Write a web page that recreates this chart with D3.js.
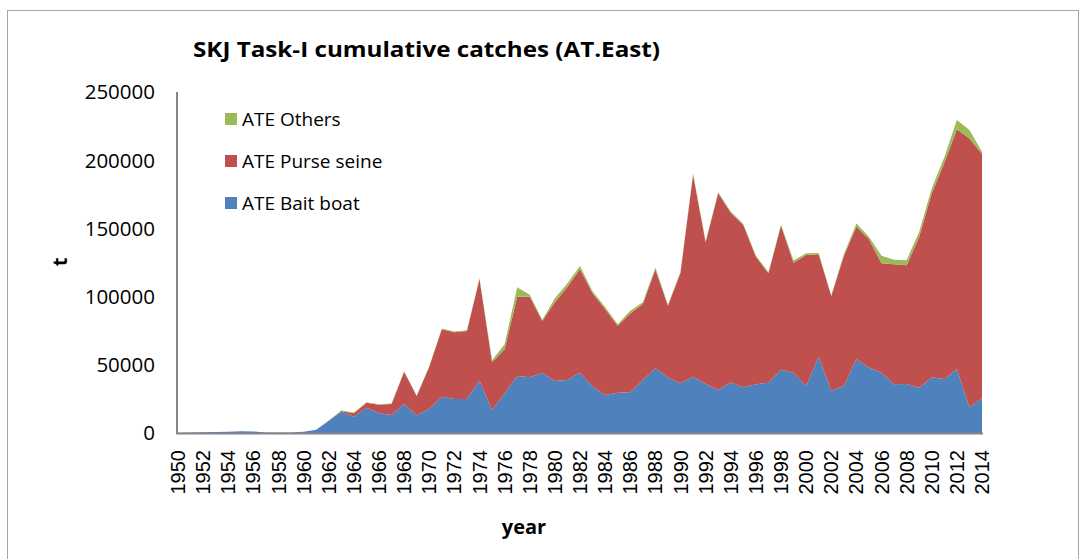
<!DOCTYPE html>
<html>
<head>
<meta charset="utf-8">
<script src="https://cdn.jsdelivr.net/npm/d3@7"></script>
<style>
  body { margin: 0; background: #fff; }
  text { fill: #000; }
</style>
</head>
<body>
<script>
var width = 1083;
var height = 559;

// years on the x axis
var years = d3.range(1950, 2015);

// ATE Bait boat (t)
var baitBoat = [
  200, 300, 600, 800, 1000, 1300, 1100, 400, 300, 400,
  900, 2300, 9000, 15600, 11900, 18500, 14400, 13200, 21300, 13000,
  17600, 26600, 24900, 24900, 38300, 16600, 29100, 41800, 40800, 44200,
  38100, 38900, 44200, 34000, 27900, 29600, 29800, 38900, 47400, 40600,
  36400, 41300, 35900, 31500, 37100, 33500, 35700, 36900, 46400, 44200,
  34500, 55900, 31000, 34500, 54000, 48100, 44200, 35700, 35900, 33200,
  40800, 39600, 46700, 18800, 25400
];

// ATE Purse seine (t)
var purseSeine = [
  0, 0, 0, 0, 0, 0, 0, 0, 0, 0,
  0, 0, 0, 600, 2500, 3700, 6300, 8100, 23600, 14100,
  31000, 49400, 48900, 49900, 74600, 35200, 32500, 58100, 59100, 37900,
  57700, 68400, 75800, 68400, 63000, 49100, 57900, 55700, 72400, 52700,
  81100, 147800, 103900, 144200, 124400, 119000, 93600, 80200, 105600, 80600,
  96000, 75100, 69400, 95300, 97300, 93900, 80200, 88000, 87000, 110700,
  134900, 158600, 175900, 197200, 179100
];

// ATE Others (t)
var others = [
  0, 0, 0, 0, 0, 0, 0, 0, 0, 0,
  0, 100, 100, 300, 600, 400, 300, 300, 400, 300,
  400, 600, 600, 500, 600, 1500, 3500, 7000, 1500, 900,
  3000, 2500, 2500, 1600, 1500, 1000, 2000, 1200, 1500, 800,
  800, 1300, 800, 800, 800, 800, 800, 800, 800, 1700,
  1300, 900, 400, 1200, 2300, 1900, 5600, 3400, 3800, 3700,
  3700, 3900, 6900, 6100, 1700
];

var seriesNames = ["ATE Bait boat", "ATE Purse seine", "ATE Others"];
var seriesColors = ["#4F81BD", "#C0504D", "#9BBB59"];
var yTicks = [0, 50000, 100000, 150000, 200000, 250000];

var rows = years.map(function(y, i) {
  return { year: y, "ATE Bait boat": baitBoat[i], "ATE Purse seine": purseSeine[i], "ATE Others": others[i] };
});

var svg = d3.select("body")
  .append("svg")
  .attr("width", width)
  .attr("height", height);

// chart frame
svg.append("rect")
  .attr("x", 7.5).attr("y", 10.5)
  .attr("width", 1071).attr("height", 600)
  .attr("fill", "#fff")
  .attr("stroke", "#a6a6a6")
  .attr("stroke-width", 1);

var xScale = d3.scaleLinear().domain([1950, 2014]).range([178, 982]);
var yScale = d3.scaleLinear().domain([0, 250000]).range([433, 92]);

var stack = d3.stack().keys(seriesNames);
var layers = stack(rows);

var area = d3.area()
  .x(function(d) { return xScale(d.data.year); })
  .y0(function(d) { return yScale(d[0]); })
  .y1(function(d) { return yScale(d[1]); });

svg.selectAll("path.layer")
  .data(layers)
  .enter()
  .append("path")
  .attr("class", "layer")
  .attr("d", area)
  .attr("fill", function(d, i) { return seriesColors[i]; });

// axes lines
svg.append("line")
  .attr("x1", 177).attr("x2", 177)
  .attr("y1", yScale(250000)).attr("y2", 434)
  .attr("stroke", "#868686").attr("stroke-width", 2);
svg.append("line")
  .attr("x1", 176).attr("x2", 983)
  .attr("y1", 433.5).attr("y2", 433.5)
  .attr("stroke", "#868686").attr("stroke-width", 2);

// y tick labels
svg.selectAll("text.ytick")
  .data(yTicks)
  .enter()
  .append("text")
  .attr("class", "ytick")
  .attr("x", 155)
  .attr("y", function(d) { return yScale(d); })
  .attr("dy", "0.36em")
  .attr("text-anchor", "end")
  .attr("font-family", "Open Sans")
  .attr("font-size", "20.5px")
  .text(function(d) { return d; });

// x tick labels (every second year)
svg.selectAll("text.xtick")
  .data(years.filter(function(y) { return y % 2 === 0; }))
  .enter()
  .append("text")
  .attr("class", "xtick")
  .attr("transform", function(d) { return "translate(" + xScale(d) + ",450) rotate(-90)"; })
  .attr("dy", "0.35em")
  .attr("text-anchor", "end")
  .attr("font-family", "Liberation Sans")
  .attr("font-size", "20px")
  .text(function(d) { return d; });

// title
svg.append("text")
  .attr("x", 426.5).attr("y", 57)
  .attr("text-anchor", "middle")
  .attr("font-family", "Open Sans")
  .attr("font-weight", "bold")
  .attr("font-size", "22px")
  .attr("textLength", 467)
  .attr("lengthAdjust", "spacingAndGlyphs")
  .text("SKJ Task-I cumulative catches (AT.East)");

// axis titles
svg.append("text")
  .attr("transform", "translate(67,262) rotate(-90)")
  .attr("text-anchor", "middle")
  .attr("font-family", "Open Sans")
  .attr("font-weight", "bold")
  .attr("font-size", "20px")
  .text("t");

svg.append("text")
  .attr("x", 524).attr("y", 534)
  .attr("text-anchor", "middle")
  .attr("font-family", "Open Sans")
  .attr("font-weight", "bold")
  .attr("font-size", "20px")
  .text("year");

// legend
var legendItems = [
  { name: "ATE Others", color: seriesColors[2], y: 119 },
  { name: "ATE Purse seine", color: seriesColors[1], y: 161 },
  { name: "ATE Bait boat", color: seriesColors[0], y: 203 }
];

var legend = svg.selectAll("g.legend")
  .data(legendItems)
  .enter()
  .append("g")
  .attr("class", "legend");

legend.append("rect")
  .attr("x", 225)
  .attr("y", function(d) { return d.y - 6; })
  .attr("width", 12).attr("height", 12)
  .attr("fill", function(d) { return d.color; });

legend.append("text")
  .attr("x", 242)
  .attr("y", function(d) { return d.y; })
  .attr("dy", "0.36em")
  .attr("font-family", "Open Sans")
  .attr("font-size", "19px")
  .text(function(d) { return d.name; });
</script>
</body>
</html>
